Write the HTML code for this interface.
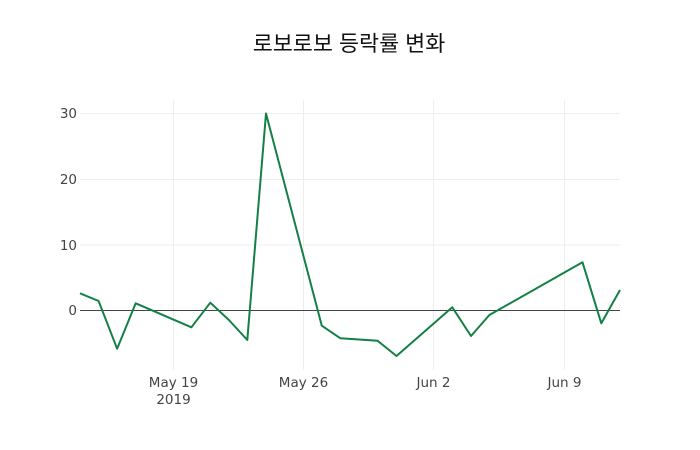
<!DOCTYPE html>
<html><head><meta charset="utf-8"><style>
html,body{margin:0;padding:0;background:#fff;}
svg{display:block;}
</style></head><body>
<svg width="700" height="450" viewBox="0 0 700 450" xmlns="http://www.w3.org/2000/svg">
<rect width="700" height="450" fill="#fff"/>
<g stroke="#eeeeee" stroke-width="1">
<line x1="80" y1="113.5" x2="620" y2="113.5"/>
<line x1="80" y1="179.5" x2="620" y2="179.5"/>
<line x1="80" y1="245" x2="620" y2="245"/>
<line x1="173.5" y1="100" x2="173.5" y2="370"/>
<line x1="303.5" y1="100" x2="303.5" y2="370"/>
<line x1="433.5" y1="100" x2="433.5" y2="370"/>
<line x1="564.5" y1="100" x2="564.5" y2="370"/>
</g>
<line x1="80" y1="310.5" x2="620" y2="310.5" stroke="#444" stroke-width="1"/>
<polyline fill="none" stroke="#138046" stroke-width="2" stroke-linejoin="round" points="80,293.3 98.6,301 117.1,348.7 135.7,303.3 191.4,327.3 210.3,302.7 228.9,320 247.3,340 266,113.5 321.8,325.7 340.4,338.3 377.5,340.7 396.5,356 452.3,307.3 471,336 489.4,315 582.5,262.3 601.3,323.3 620,290"/>
<g font-family="'DejaVu Sans', Verdana, sans-serif" font-size="13.5" fill="#444">
<text x="77" y="118" text-anchor="end">30</text>
<text x="77" y="184" text-anchor="end">20</text>
<text x="77" y="250" text-anchor="end">10</text>
<text x="77" y="315" text-anchor="end">0</text>
<text x="173.5" y="387" text-anchor="middle">May 19</text>
<text x="173.5" y="404" text-anchor="middle">2019</text>
<text x="303.5" y="387" text-anchor="middle">May 26</text>
<text x="433.5" y="387" text-anchor="middle">Jun 2</text>
<text x="564.5" y="387" text-anchor="middle">Jun 9</text>
</g>
<text x="349" y="51" text-anchor="middle" font-family="'Liberation Sans','Noto Sans CJK KR',sans-serif" font-size="21.8" fill="#111">로보로보 등락률 변화</text>
</svg>
</body></html>
